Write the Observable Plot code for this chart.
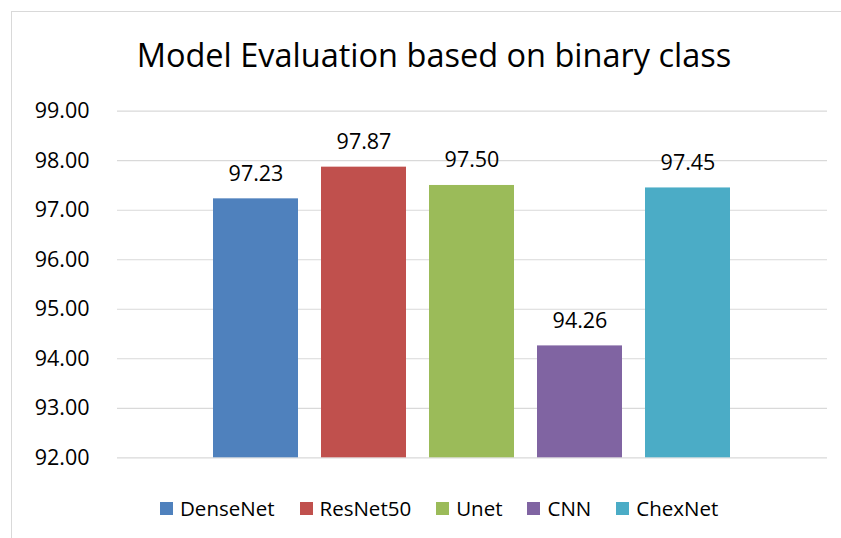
<!DOCTYPE html>
<html>
<head>
<meta charset="utf-8">
<script src="https://cdn.jsdelivr.net/npm/d3@7"></script>
<script src="https://cdn.jsdelivr.net/npm/@observablehq/plot@0.6"></script>
<style>
  html, body { margin: 0; padding: 0; background: #fff; }
  #wrap { position: relative; width: 841px; height: 538px; overflow: hidden; font-family: "Open Sans", sans-serif; color: #000; }
  #border { position: absolute; left: 11px; top: 11px; width: 900px; height: 600px; border: 1px solid #d9d9d9; box-sizing: border-box; }
  #chart { position: absolute; left: 0; top: 0; }
  #title { position: absolute; left: 0; width: 868px; top: 32px; text-align: center; font-size: 32.5px; line-height: normal; white-space: nowrap; }
  #legend { position: absolute; left: 160px; top: 494px; display: flex; align-items: center; font-size: 20.5px; line-height: normal; white-space: nowrap; }
  .item { display: flex; align-items: center; margin-right: 25px; }
  .sw { width: 13px; height: 13px; margin-right: 7px; }
</style>
</head>
<body>
<div id="wrap">
  <div id="border"></div>
  <div id="chart"></div>
  <div id="title">Model Evaluation based on binary class</div>
  <div id="legend"></div>
</div>
<script>
const models = ["DenseNet", "ResNet50", "Unet", "CNN", "ChexNet"];
const values = [97.23, 97.87, 97.50, 94.26, 97.45];
const colors = ["#4F81BD", "#C0504D", "#9BBB59", "#8064A2", "#4BACC6"];
const yTicks = [92, 93, 94, 95, 96, 97, 98, 99];
const yMin = 92, yMax = 99;

const data = models.map((m, i) => ({model: m, value: values[i]}));

const plot = Plot.plot({
  width: 841,
  height: 538,
  marginLeft: 117,
  marginRight: 14,
  marginTop: 110.7,
  marginBottom: 80.7,
  style: {fontFamily: "Open Sans, sans-serif", fontSize: "21.5px", color: "#000", background: "transparent"},
  x: {domain: models, paddingInner: 0.211, paddingOuter: 0.87, axis: null},
  y: {domain: [yMin, yMax], axis: null},
  color: {domain: models, range: colors},
  marks: [
    Plot.gridY(yTicks, {stroke: "#d9d9d9", strokeOpacity: 1, strokeWidth: 1.2}),
    Plot.axisY(yTicks, {tickSize: 0, tickPadding: 28, tickFormat: d => d.toFixed(2), label: null, fontSize: 21.5, fill: "#000"}),
    Plot.barY(data, {x: "model", y1: yMin, y2: "value", fill: "model"}),
    Plot.text(data, {x: "model", y: "value", text: d => d.value.toFixed(2), dy: -25, fontSize: 21.5, fill: "#000"})
  ]
});
document.getElementById("chart").appendChild(plot);

const legend = document.getElementById("legend");
models.forEach((m, i) => {
  const it = document.createElement("div");
  it.className = "item";
  const sw = document.createElement("div");
  sw.className = "sw";
  sw.style.background = colors[i];
  const tx = document.createElement("span");
  tx.textContent = m;
  it.appendChild(sw);
  it.appendChild(tx);
  legend.appendChild(it);
});
</script>
</body>
</html>
